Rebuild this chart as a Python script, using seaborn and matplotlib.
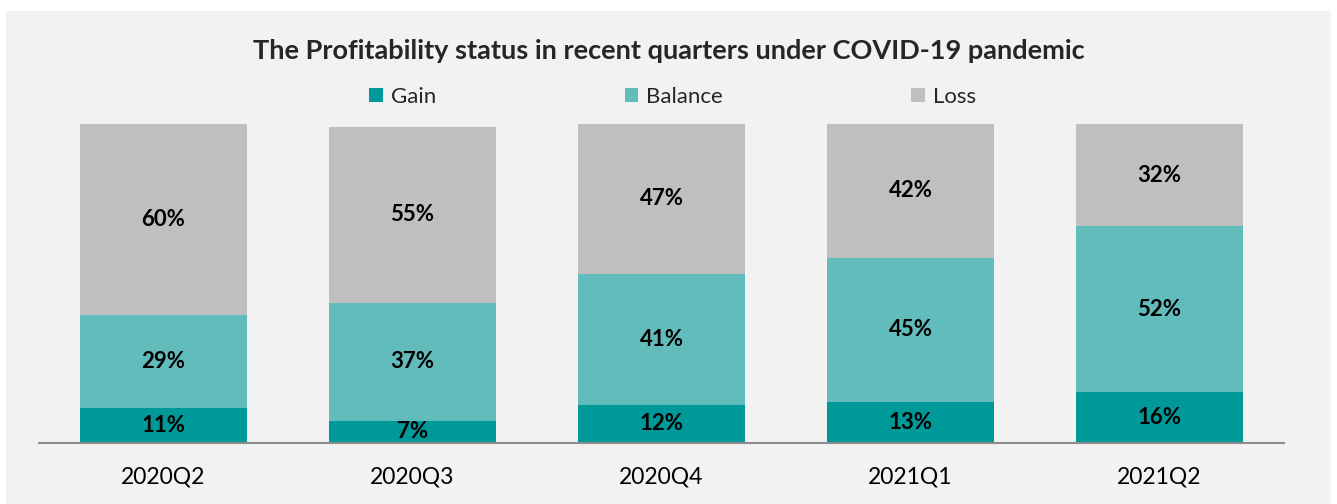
import matplotlib
matplotlib.use("Agg")
import matplotlib.pyplot as plt
import numpy as np
import pandas as pd
import seaborn as sns
from matplotlib.patches import Rectangle, Patch

quarters = ["2020Q2", "2020Q3", "2020Q4", "2021Q1", "2021Q2"]
gain = [11, 7, 12, 13, 16]
balance = [29, 37, 41, 45, 52]
loss = [60, 55, 47, 42, 32]

COLORS = {"Gain": "#009999", "Balance": "#62bcbc", "Loss": "#bfbfbf"}
BG = "#f2f2f2"

sns.set_theme(style="white")
plt.rcParams["font.family"] = ["Lato", "DejaVu Sans"]

fig = plt.figure(figsize=(13.37, 5.04), dpi=100)
fig.patch.set_facecolor("white")
fig.patches.append(Rectangle((6 / 1337, 0), 1325 / 1337, 493 / 504,
                             transform=fig.transFigure, facecolor=BG,
                             edgecolor="none", zorder=-10))

ax = fig.add_axes([39 / 1337, 61 / 504, 1245 / 1337, 319 / 504])
ax.patch.set_alpha(0)

df = pd.DataFrame({"quarter": quarters, "Gain": gain,
                   "Balance": balance, "Loss": loss})
bottom = np.zeros(len(quarters))
for name in ["Gain", "Balance", "Loss"]:
    sns.barplot(data=df, x="quarter", y=name, color=COLORS[name],
                width=0.667, bottom=bottom, ax=ax, saturation=1,
                linewidth=0)
    bottom = bottom + df[name].values

for cont in ax.containers:
    ax.bar_label(cont, labels=[f"{v.get_height():.0f}%" for v in cont],
                 label_type="center", fontsize=16, fontweight="bold",
                 color="black")

ax.set_xlim(-0.5, 4.5)
ax.set_ylim(0, 100)
ax.set_yticks([])
ax.set_xlabel("")
ax.set_ylabel("")
for s in ["top", "right", "left"]:
    ax.spines[s].set_visible(False)
ax.spines["bottom"].set_color("#8c8c8c")
ax.spines["bottom"].set_linewidth(1.5)
ax.tick_params(axis="x", length=0, labelsize=16.5, pad=17, colors="black")

fig.text(0.5, 453 / 504, "The Profitability status in recent quarters under COVID-19 pandemic",
         ha="center", va="center", fontsize=19.5, fontweight="bold")

handles = [Patch(facecolor=COLORS[k], edgecolor="none") for k in COLORS]
fig.legend(handles, list(COLORS), loc="center", bbox_to_anchor=(0.503, 407 / 504),
           ncol=3, frameon=False, fontsize=16, handlelength=0.6, handleheight=0.6,
           handletextpad=0.35, columnspacing=8.5)

fig.savefig("out.png", dpi=100, facecolor="white")
